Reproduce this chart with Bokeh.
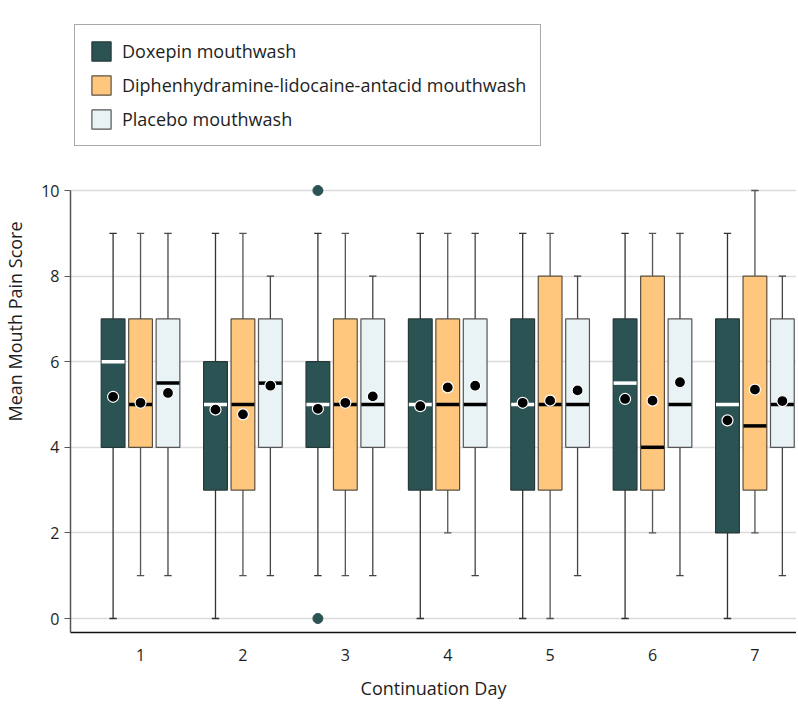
from bokeh.plotting import figure
from bokeh.models import Legend, LegendItem, FixedTicker, Range1d
from bokeh.embed import file_html
from bokeh.resources import INLINE

days = [1, 2, 3, 4, 5, 6, 7]
groups = ["Doxepin mouthwash", "Diphenhydramine-lidocaine-antacid mouthwash", "Placebo mouthwash"]

# Doxepin
d_lower = [0, 0, 1, 0, 0, 0, 0]
d_q1 = [4, 3, 4, 3, 3, 3, 2]
d_med = [6, 5, 5, 5, 5, 5.5, 5]
d_q3 = [7, 6, 6, 7, 7, 7, 7]
d_upper = [9, 9, 9, 9, 9, 9, 9]
d_mean = [5.18, 4.88, 4.90, 4.96, 5.04, 5.13, 4.63]
d_out_day = [3, 3]
d_out_val = [10, 0]

# Diphenhydramine-lidocaine-antacid
l_lower = [1, 1, 1, 2, 0, 2, 2]
l_q1 = [4, 3, 3, 3, 3, 3, 3]
l_med = [5, 5, 5, 5, 5, 4, 4.5]
l_q3 = [7, 7, 7, 7, 8, 8, 8]
l_upper = [9, 9, 9, 9, 9, 9, 10]
l_mean = [5.04, 4.77, 5.04, 5.40, 5.09, 5.09, 5.35]

# Placebo
p_lower = [1, 1, 1, 1, 1, 1, 1]
p_q1 = [4, 4, 4, 4, 4, 4, 4]
p_med = [5.5, 5.5, 5, 5, 5, 5, 5]
p_q3 = [7, 7, 7, 7, 7, 7, 7]
p_upper = [9, 8, 8, 9, 8, 9, 8]
p_mean = [5.27, 5.44, 5.19, 5.44, 5.33, 5.52, 5.08]

y_ticks = [0, 2, 4, 6, 8, 10]

FONT = "Open Sans"
TXT = "#1e1e1e"

# frame extends above the data area to hold the legend; y axis line bounded to 0..10
p = figure(width=796, height=712, output_backend="svg", toolbar_location=None,
           x_range=Range1d(0.316, 7.406), y_range=Range1d(-0.327, 14.206),
           min_border_left=70, min_border_right=0, min_border_top=10, min_border_bottom=80)
p.outline_line_color = None
p.background_fill_color = "white"
p.border_fill_color = "white"

p.xgrid.grid_line_color = None
p.ygrid.grid_line_color = "#dcdcdc"
p.ygrid.grid_line_width = 1.5

p.yaxis.ticker = FixedTicker(ticks=y_ticks)
p.xaxis.ticker = FixedTicker(ticks=days)
p.yaxis.bounds = (-0.327, 10)

p.yaxis.axis_label = "Mean Mouth Pain Score"
p.xaxis.axis_label = "Continuation Day"
for ax in (p.xaxis[0], p.yaxis[0]):
    ax.axis_label_text_font = FONT
    ax.axis_label_text_font_size = "18px"
    ax.axis_label_text_font_style = "normal"
    ax.axis_label_text_color = TXT
    ax.major_label_text_font = FONT
    ax.major_label_text_font_size = "16px"
    ax.major_label_text_color = TXT
    ax.minor_tick_line_color = None

p.yaxis.axis_line_color = "#555555"
p.yaxis.axis_line_width = 1.5
p.yaxis.major_tick_line_color = "#555555"
p.yaxis.major_tick_out = 6
p.yaxis.major_tick_in = 0
p.yaxis.major_label_standoff = 5
p.yaxis.axis_label_standoff = 11

p.xaxis.axis_line_color = "#111111"
p.xaxis.axis_line_width = 1.5
p.xaxis.major_tick_line_color = None
p.xaxis.major_tick_out = 0
p.xaxis.major_tick_in = 0
p.xaxis.major_label_standoff = 16
p.xaxis.axis_label_standoff = 12

off = 0.268
bw = 0.232
cap = 0.036

series = [
    (-off, d_lower, d_q1, d_med, d_q3, d_upper, d_mean, "#2c5354", "#263838", "white", "#333333"),
    (0.0, l_lower, l_q1, l_med, l_q3, l_upper, l_mean, "#ffc77d", "#5a5040", "black", "#555555"),
    (off, p_lower, p_q1, p_med, p_q3, p_upper, p_mean, "#e9f3f5", "#555555", "black", "#444444"),
]

items = []
for i, (o, lo, q1, md, q3, up, mn, fill, edge, medc, wc) in enumerate(series):
    xs = [d + o for d in days]
    p.segment(x0=xs, y0=lo, x1=xs, y1=up, line_color=wc, line_width=1.3)
    p.segment(x0=[x - cap for x in xs], y0=up, x1=[x + cap for x in xs], y1=up, line_color=wc, line_width=1.3)
    p.segment(x0=[x - cap for x in xs], y0=lo, x1=[x + cap for x in xs], y1=lo, line_color=wc, line_width=1.3)
    r = p.vbar(x=xs, width=bw, bottom=q1, top=q3, fill_color=fill, line_color=edge, line_width=1.2)
    p.segment(x0=[x - bw / 2 + 0.004 for x in xs], y0=md, x1=[x + bw / 2 - 0.004 for x in xs], y1=md,
              line_color=medc, line_width=3.5)
    p.scatter(x=xs, y=mn, size=11, marker="circle", fill_color="black", line_color="white", line_width=1.2)
    items.append(LegendItem(label=groups[i], renderers=[r]))

p.scatter(x=[d - off for d in d_out_day], y=d_out_val, size=10, marker="circle",
          fill_color="#2c5354", line_color="#2c5354")

legend = Legend(items=items, location=(4, 486))
legend.label_text_font = FONT
legend.label_text_font_size = "18px"
legend.label_text_color = TXT
legend.glyph_width = 24
legend.glyph_height = 24
legend.label_height = 24
legend.spacing = 10
legend.padding = 14
legend.margin = 0
legend.label_standoff = 9
legend.border_line_color = "#555555"
legend.border_line_width = 1.3
legend.background_fill_alpha = 1.0
p.add_layout(legend)

open("out.html", "w").write(file_html(p, INLINE))
